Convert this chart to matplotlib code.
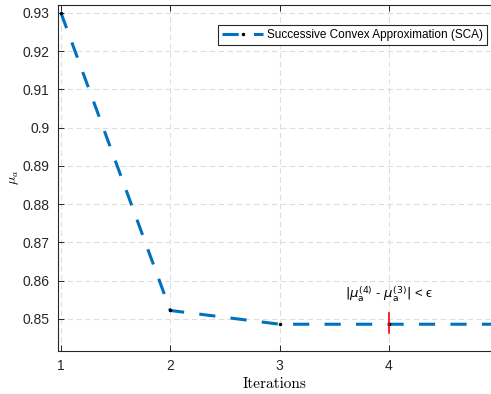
import matplotlib.pyplot as plt
import numpy as np

# SCA convergence of mu_a per iteration
iterations = [1, 2, 3, 4, 5]
mu_a = [0.930, 0.8522, 0.8486, 0.8486, 0.8486]
xticks = [1, 2, 3, 4]
yticks = [0.85, 0.86, 0.87, 0.88, 0.89, 0.90, 0.91, 0.92, 0.93]
ytick_labels = ['0.85', '0.86', '0.87', '0.88', '0.89', '0.9', '0.91', '0.92', '0.93']

plt.rcParams['font.family'] = ['Liberation Sans', 'DejaVu Sans']

fig = plt.figure(figsize=(4.91, 3.94), dpi=100)
ax = fig.add_axes([58/491, 1 - 351/394, 433/491, (351 - 4.5)/394])

ax.plot(iterations, mu_a, color='#0072BD', linewidth=2.2, dashes=(5.3, 5.0),
		dash_capstyle='butt', marker='.', markersize=3, markerfacecolor='k',
		markeredgecolor='k', label='Successive Convex Approximation (SCA)')

# convergence check between iteration 3 and 4
ax.plot([4, 4], [0.8463, 0.8516], color='red', linewidth=1.2)
ax.text(4, 0.8540, r'$|\mu_\mathrm{a}^{(4)}$ - $\mu_\mathrm{a}^{(3)}|$ < ' + '\u03f5',
		ha='center', va='bottom', fontsize=9.5, math_fontfamily='dejavusans')

ax.set_xlim(0.9726, 4.933)
ax.set_ylim(0.8416, 0.9322)
ax.set_xticks(xticks)
ax.set_yticks(yticks)
ax.set_yticklabels(ytick_labels)
ax.tick_params(direction='in', length=4, width=0.7, labelsize=10, top=True,
			   colors='#262626', pad=6)
ax.spines['right'].set_visible(False)
for s in ['left', 'bottom', 'top']:
	ax.spines[s].set_color('#262626')
	ax.spines[s].set_linewidth(0.8)

ax.grid(True, linestyle=(0, (5, 3)), color='#dedede', linewidth=0.8)
ax.set_axisbelow(True)

ax.set_xlabel('Iterations', fontfamily='cmr10', fontsize=11, labelpad=3)
ax.set_ylabel(r'$\mu_a$', fontsize=10, math_fontfamily='cm', labelpad=1)

leg = ax.legend(loc='upper right', bbox_to_anchor=(0.991, 0.941), fontsize=8.5,
				fancybox=False, framealpha=1, edgecolor='#262626',
				borderaxespad=0, borderpad=0.35, handlelength=3.5, handletextpad=0.3)
leg.get_frame().set_linewidth(0.8)

fig.savefig('out.png', dpi=100)
